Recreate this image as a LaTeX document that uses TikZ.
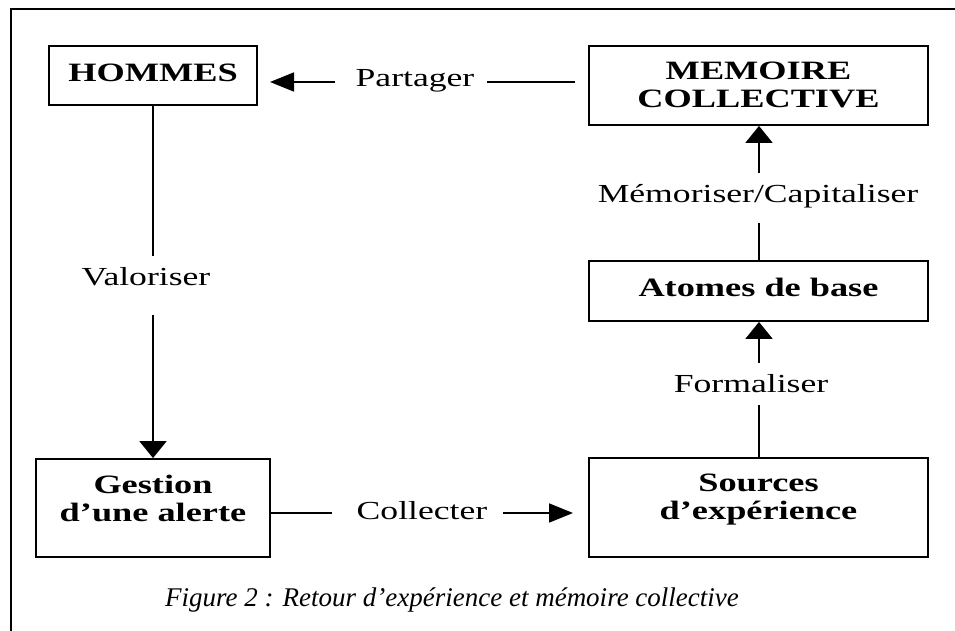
\documentclass[tikz,border=0pt]{standalone}
\usepackage{fontspec}
\setmainfont{Liberation Serif}
\newfontfamily\wide{Liberation Serif}[FakeStretch=1.37,Ligatures=TeX]
\usetikzlibrary{arrows.meta}
\begin{document}
\begin{tikzpicture}[x=1pt,y=-1pt,
  box/.style={draw, line width=1.8pt, inner sep=0pt},
  bt/.style={font=\wide\fontsize{26.5}{28}\selectfont\bfseries, align=center, inner sep=0pt},
  lbl/.style={font=\wide\fontsize{26}{28}\selectfont, inner sep=0pt, anchor=base},
  conn/.style={line width=1.8pt},
  harr/.style={conn, -{Triangle[length=24pt,width=19pt]}},
  varr/.style={conn, -{Triangle[length=17pt,width=27pt]}},
  frame/.style={line width=1.4pt}
]
\useasboundingbox (0,0) rectangle (955,631);
% frame
\draw[frame] (11,631) -- (11,9) -- (955,9);
% boxes
\node[box, minimum width=208pt, minimum height=59pt] (hom) at (153,75.5) {};
\node[bt] (homt) at (153,72.5) {HOMMES};
\node[box, minimum width=339pt, minimum height=79pt] (mem) at (758.5,85.5) {};
\node[bt] (memt) at (758.5,84.5) {MEMOIRE\\COLLECTIVE};
\node[box, minimum width=339pt, minimum height=60pt] (ato) at (758.5,291) {};
\node[bt] (atot) at (758.5,287) {Atomes de base};
\node[box, minimum width=339pt, minimum height=99pt] (src) at (758.5,507.5) {};
\node[bt] (srct) at (758.5,500) {Sources\\d’expérience};
\node[box, minimum width=234pt, minimum height=98pt] (ges) at (153,508) {};
\node[bt] (gest) at (153,498) {Gestion\\d’une alerte};
% Partager
\node[lbl] (pt) at (415,87) {Partager};
\coordinate (p1) at (575,82);
\coordinate (p2) at (487,82);
\coordinate (p3) at (335,82);
\coordinate (p4) at (270,82);
\draw[conn] (p1) -- (p2);
\draw[harr] (p3) -- (p4);
% Valoriser
\node[lbl] (vt) at (146,285) {Valoriser};
\coordinate (v1) at (153,256);
\coordinate (v2) at (153,315);
\draw[conn] (hom.south) -- (v1);
\draw[varr] (v2) -- (ges.north);
% Collecter
\node[lbl] (ct) at (422,519) {Collecter};
\coordinate (c0) at (270,513);
\coordinate (c1) at (332,513);
\coordinate (c2) at (503,513);
\coordinate (c3) at (573,513);
\draw[conn] (c0) -- (c1);
\draw[harr] (c2) -- (c3);
% Formaliser
\node[lbl] (ft) at (751,392) {Formaliser};
\coordinate (f1) at (759,405);
\coordinate (f2) at (759,363);
\draw[conn] (src.north -| f1) -- (f1);
\draw[varr] (f2) -- (ato.south -| f2);
% Memoriser
\node[lbl] (mt) at (758,203) {Mémoriser/Capitaliser};
\coordinate (m1) at (759,223);
\coordinate (m2) at (759,173);
\draw[conn] (ato.north -| m1) -- (m1);
\draw[varr] (m2) -- (mem.south -| m2);
% caption
\node[font=\fontsize{27}{30}\selectfont\itshape, inner sep=0pt, anchor=base] (cap) at (452,606) {Figure 2 : Retour d’expérience et mémoire collective};
\end{tikzpicture}
\end{document}
